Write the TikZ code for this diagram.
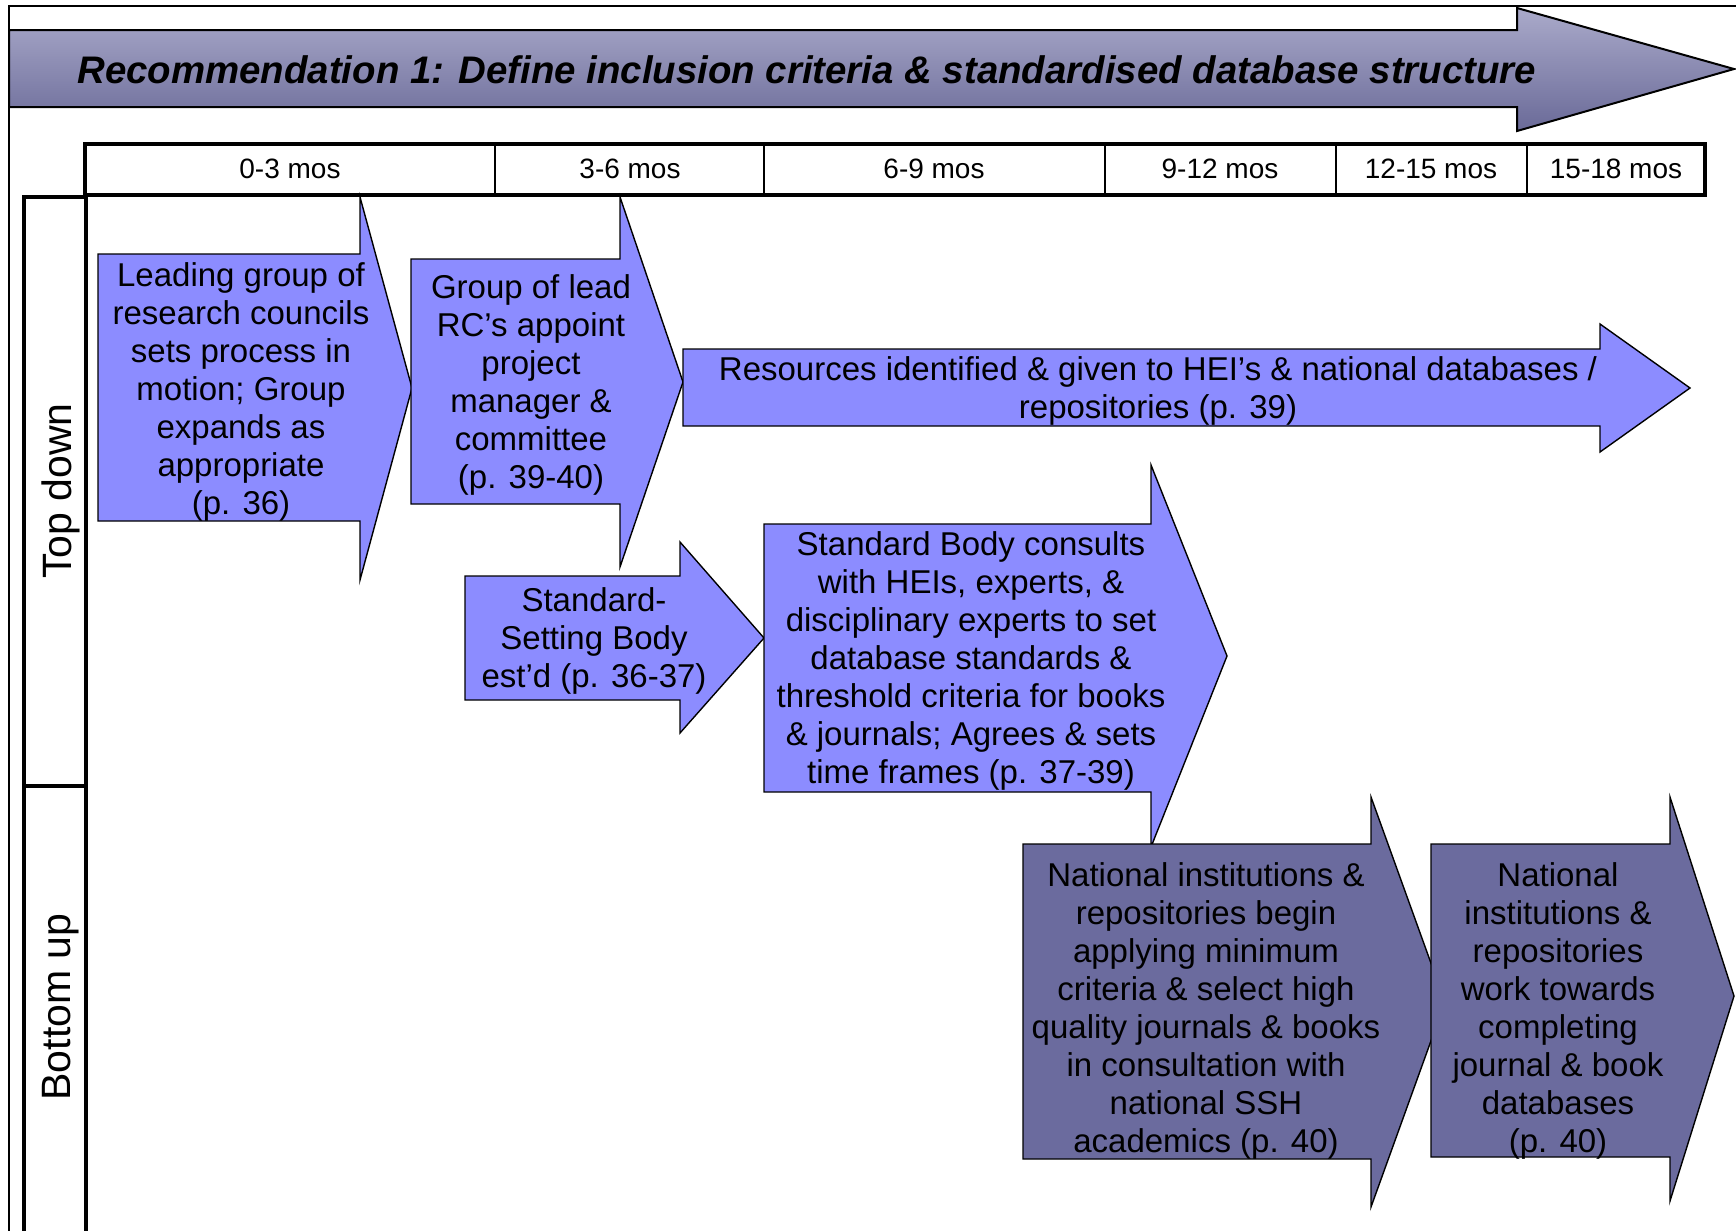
\documentclass[tikz,border=0pt]{standalone}
\usepackage{fontspec}
\setmainfont{Liberation Sans}

\definecolor{stagelight}{RGB}{140,140,255}
\definecolor{stagedark}{RGB}{107,107,158}
\definecolor{titletop}{RGB}{170,170,202}
\definecolor{titlebottom}{RGB}{106,106,152}

\tikzset{
  lightstage/.style={draw=black, line width=0.7pt, fill=stagelight},
  darkstage/.style={draw=black, line width=0.7pt, fill=stagedark},
  stagetext/.style={font=\fontsize{16.5}{19}\selectfont, align=center, inner sep=0pt},
  spantext/.style={font=\fontsize{14}{16}\selectfont, inner sep=0pt},
  lanetext/.style={font=\fontsize{20.5}{24}\selectfont, rotate=90, inner sep=0pt}
}

\begin{document}
\begin{tikzpicture}[x=0.5pt, y=-0.5pt]
  \useasboundingbox (0,0) rectangle (1736,1231);
  \clip (0,0) rectangle (1736,1231);
  % frame and title arrow
  \draw[line width=0.6pt] (9,6) rectangle (1780,1260);
  \draw[line width=1pt, top color=titletop, bottom color=titlebottom]
    (9,30) -- (1517,30) -- (1517,8) -- (1734,69) -- (1517,131) -- (1517,107) -- (9,107) -- cycle;
  \node[anchor=west, inner sep=0pt, font=\fontsize{19.2}{23}\selectfont\bfseries\itshape]
    (title) at (77,70) {Recommendation 1: Define inclusion criteria \& standardised database structure};

  % time line
  \draw[line width=2pt] (85,144) rectangle (1705,195);
  \foreach \x in {495, 764, 1105, 1336, 1527}
    \draw[line width=1pt] (\x,144) -- (\x,195);
  \foreach \c/\lbl [count=\i] in {290/0-3 mos, 630/3-6 mos, 934/6-9 mos,
      1220/9-12 mos, 1431/12-15 mos, 1616/15-18 mos}
    \node[spantext] (span\i) at (\c,169) {\lbl};

  % lanes
  \draw[line width=2pt] (24,197) rectangle (86,786);
  \draw[line width=2pt] (24,786) rectangle (86,1250);
  \node[lanetext] (topdown) at (61,491) {Top down};
  \node[lanetext] (bottomup) at (61,1007) {Bottom up};

  % top down stages
  \draw[lightstage] (98,254) -- (360,254) -- (360,197) -- (412,388) -- (360,580) -- (360,521) -- (98,521) -- cycle;
  \node[stagetext] (lead) at (241,392)
    {Leading group of\\research councils\\sets process in\\motion; Group\\expands as\\appropriate\\(p. 36)};

  \draw[lightstage] (411,259) -- (620,259) -- (620,197) -- (683,382) -- (620,567) -- (620,504) -- (411,504) -- cycle;
  \node[stagetext] (appoint) at (531,385)
    {Group of lead\\RC’s appoint\\project\\manager \&\\committee\\(p. 39-40)};

  \draw[lightstage] (683,349) -- (1600,349) -- (1600,324) -- (1690,388) -- (1600,452) -- (1600,426) -- (683,426) -- cycle;
  \node[stagetext] (resources) at (1158,391)
    {Resources identified \& given to HEI’s \& national databases /\\repositories (p. 39)};

  \draw[lightstage] (465,576) -- (680,576) -- (680,542) -- (764,638) -- (680,733) -- (680,700) -- (465,700) -- cycle;
  \node[stagetext] (setting) at (594,641)
    {Standard-\\Setting Body\\est’d (p. 36-37)};

  \draw[lightstage] (764,524) -- (1151,524) -- (1151,465) -- (1227,656) -- (1151,847) -- (1151,792) -- (764,792) -- cycle;
  \node[stagetext] (consults) at (971,661)
    {Standard Body consults\\with HEIs, experts, \&\\disciplinary experts to set\\database standards \&\\threshold criteria for books\\\& journals; Agrees \& sets\\time frames (p. 37-39)};

  % bottom up stages
  \draw[darkstage] (1023,844) -- (1371,844) -- (1371,797) -- (1445,1002) -- (1371,1207) -- (1371,1159) -- (1023,1159) -- cycle;
  \node[stagetext] (applying) at (1206,1011)
    {National institutions \&\\repositories begin\\applying minimum\\criteria \& select high\\quality journals \& books\\in consultation with\\national SSH\\academics (p. 40)};

  \draw[darkstage] (1431,844) -- (1670,844) -- (1670,797) -- (1734,996) -- (1670,1201) -- (1670,1157) -- (1431,1157) -- cycle;
  \node[stagetext] (completing) at (1558,1011)
    {National\\institutions \&\\repositories\\work towards\\completing\\journal \& book\\databases\\(p. 40)};
\end{tikzpicture}
\end{document}
